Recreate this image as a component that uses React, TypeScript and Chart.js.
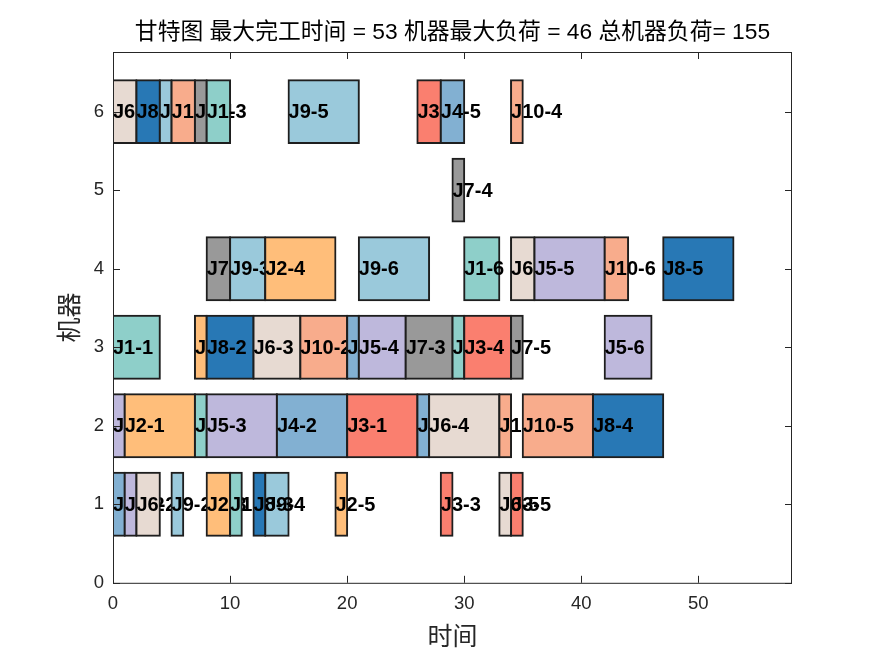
import React, { useEffect, useRef } from 'react';
import { Chart, registerables } from 'chart.js';

Chart.register(...registerables);

const chartTitle = '甘特图 最大完工时间 = 53 机器最大负荷 = 46 总机器负荷= 155';
const xTitle = '时间';
const yTitle = '机器';

const jobColors = ['#8ECFC9', '#FFBE7A', '#FA7F6F', '#82B0D2', '#BEB8DC', '#E7DAD2', '#999999', '#2878B5', '#9AC9DB', '#F8AC8C'];

// operations, listed in drawing order
const opJob = [1, 4, 5, 6, 2, 5, 6, 8, 9, 9, 10, 1, 2, 7, 1, 2, 5, 7, 8, 1, 9, 6, 2, 9, 8, 4, 9, 10, 2, 3, 4, 5, 9, 7, 3, 4, 6, 3, 4, 1, 7, 1, 3, 10, 3, 6, 6, 7, 10, 10, 5, 8, 5, 10, 8];
const opNo = [1, 1, 1, 1, 1, 2, 2, 1, 1, 2, 1, 2, 2, 1, 3, 3, 3, 2, 2, 4, 3, 3, 4, 4, 3, 2, 5, 2, 5, 1, 3, 4, 6, 3, 2, 4, 4, 3, 5, 5, 4, 6, 4, 3, 5, 5, 6, 5, 4, 5, 5, 4, 6, 6, 5];
const opMachine = [3, 1, 2, 6, 2, 1, 1, 6, 6, 1, 6, 2, 3, 6, 6, 1, 2, 4, 3, 1, 4, 3, 4, 1, 1, 2, 6, 3, 1, 2, 3, 3, 4, 3, 6, 2, 2, 1, 6, 3, 5, 4, 3, 2, 1, 1, 4, 3, 6, 2, 4, 2, 3, 4, 4];
const opStart = [0, 0, 0, 0, 1, 1, 2, 2, 4, 5, 5, 7, 7, 7, 8, 8, 8, 8, 8, 10, 10, 12, 13, 13, 12, 14, 15, 16, 19, 20, 20, 21, 21, 25, 26, 26, 27, 28, 28, 29, 29, 30, 30, 33, 34, 33, 34, 34, 34, 35, 36, 41, 42, 42, 47];
const opEnd = [4, 1, 1, 2, 7, 2, 4, 4, 5, 6, 7, 8, 8, 8, 10, 10, 14, 10, 12, 11, 13, 16, 19, 15, 13, 20, 21, 20, 20, 26, 21, 25, 27, 29, 28, 27, 33, 29, 30, 30, 30, 33, 34, 34, 35, 34, 36, 35, 35, 41, 42, 47, 46, 44, 53];

const xMax = 58;
const yMax = 6.76;
const xStep = 10;
const yStep = 1;

const AXIS = '#262626';
const LATIN = '"Liberation Sans", Arial';
const CJK = '"Noto Sans CJK SC", sans-serif';

export default function App() {
  const ref = useRef<HTMLCanvasElement | null>(null);

  useEffect(() => {
    document.body.style.margin = '0';
    const canvas = ref.current;
    if (!canvas) return;
    const N = opJob.length;

    const datasets = opJob.map((j, i) => ({
      type: 'bar' as const,
      label: `J${j}-${opNo[i]}`,
      data: [{ x: [opStart[i], opEnd[i]], y: opMachine[i] }],
      backgroundColor: jobColors[j - 1],
      borderColor: '#1e1e1e',
      borderWidth: 2,
      borderSkipped: false,
      inflateAmount: 1,
      barPercentage: 0.8,
      categoryPercentage: 1,
      grouped: false,
      order: N - i,
    }));

    const ganttPlugin = {
      id: 'ganttExtras',
      afterDatasetDraw(chart: any, args: any) {
        const i = args.index;
        const { ctx, scales } = chart;
        const x = scales.x.getPixelForValue(opStart[i]);
        const y = scales.y.getPixelForValue(opMachine[i]);
        ctx.save();
        ctx.font = `bold 20px ${LATIN}, sans-serif`;
        ctx.fillStyle = '#000';
        ctx.textAlign = 'left';
        ctx.textBaseline = 'middle';
        ctx.fillText(`J${opJob[i]}-${opNo[i]}`, x, y + 1);
        ctx.restore();
      },
      afterDraw(chart: any) {
        const { ctx, chartArea: a, scales } = chart;
        ctx.save();
        ctx.strokeStyle = AXIS;
        ctx.lineWidth = 1;
        ctx.strokeRect(a.left + 0.5, a.top + 0.5, a.right - a.left - 1, a.bottom - a.top);
        const tl = 7;
        ctx.beginPath();
        scales.x.ticks.forEach((t: any) => {
          const px = Math.round(scales.x.getPixelForValue(t.value)) + 0.5;
          ctx.moveTo(px, a.bottom);
          ctx.lineTo(px, a.bottom - tl);
          ctx.moveTo(px, a.top);
          ctx.lineTo(px, a.top + tl);
        });
        scales.y.ticks.forEach((t: any) => {
          const py = Math.round(scales.y.getPixelForValue(t.value)) + 0.5;
          ctx.moveTo(a.left, py);
          ctx.lineTo(a.left + tl, py);
          ctx.moveTo(a.right, py);
          ctx.lineTo(a.right - tl, py);
        });
        ctx.stroke();
        ctx.font = `22.8px ${LATIN}, ${CJK}`;
        ctx.fillStyle = '#000';
        ctx.textAlign = 'center';
        ctx.textBaseline = 'middle';
        ctx.fillText(chartTitle, (a.left + a.right) / 2, 33);
        ctx.restore();
      },
    };

    const chart = new Chart(canvas, {
      type: 'bar',
      data: { datasets: datasets as any },
      options: {
        animation: false,
        responsive: false,
        devicePixelRatio: 1,
        indexAxis: 'y',
        layout: { padding: { top: 52, right: 83, bottom: 0, left: 0 } },
        plugins: {
          legend: { display: false },
          tooltip: { enabled: false },
          title: { display: false },
        },
        scales: {
          x: {
            type: 'linear',
            min: 0,
            max: xMax,
            offset: false,
            grid: { display: false, drawTicks: false, offset: false },
            border: { display: false },
            ticks: {
              stepSize: xStep,
              includeBounds: false,
              padding: 10,
              color: AXIS,
              font: { family: LATIN, size: 18.5 },
              maxRotation: 0,
            },
            title: {
              display: true,
              text: xTitle,
              color: AXIS,
              font: { family: CJK, size: 25 },
              padding: { top: 0, bottom: 6 },
            },
            afterFit: (s: any) => { s.height = 73.2; },
          },
          y: {
            type: 'linear',
            min: 0,
            max: yMax,
            offset: false,
            grid: { display: false, drawTicks: false, offset: false },
            border: { display: false },
            ticks: {
              stepSize: yStep,
              includeBounds: false,
              padding: 9,
              color: AXIS,
              font: { family: LATIN, size: 18.5 },
            },
            title: {
              display: true,
              text: yTitle,
              color: AXIS,
              font: { family: CJK, size: 25 },
              padding: { top: 53, bottom: 0 },
            },
            afterFit: (s: any) => { s.width = 113; },
          },
        },
      },
      plugins: [ganttPlugin],
    });

    return () => chart.destroy();
  }, []);

  return (
    <div style={{ width: 875, height: 656 }}>
      <canvas ref={ref} width={875} height={656} />
    </div>
  );
}
